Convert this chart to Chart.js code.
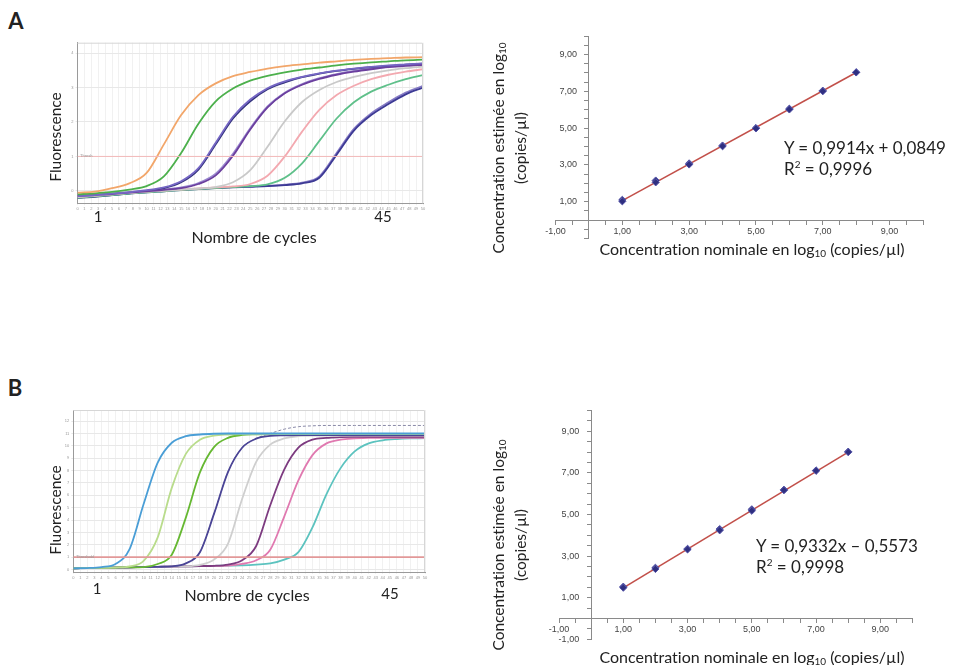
<!DOCTYPE html>
<html><head><meta charset="utf-8">
<script src="https://cdn.jsdelivr.net/npm/chart.js@4.4.1/dist/chart.umd.min.js"></script>
<style>
body{margin:0;background:#fff;}
#wrap{position:relative;width:953px;height:665px;overflow:hidden;font-family:Lato,"Open Sans",sans-serif;color:#222;background:#fff;font-variant-ligatures:none;}
canvas{position:absolute;}
.t{position:absolute;transform:translate(-50%,-50%);white-space:nowrap;line-height:1;}
.l{position:absolute;transform:translate(0,-50%);white-space:nowrap;line-height:1;}
.rot{position:absolute;transform:translate(-50%,-50%) rotate(-90deg);white-space:nowrap;text-align:center;}
.sub{font-size:10px;vertical-align:-2px;}
.tiny{position:absolute;font-size:4px;color:#999;font-family:"Liberation Sans",sans-serif;}
</style></head>
<body><div id="wrap">
<canvas id="ampA" width="375" height="185" style="left:55px;top:35px"></canvas>
<canvas id="stdA" width="425" height="240" style="left:520px;top:20px"></canvas>
<canvas id="ampB" width="382" height="190" style="left:50px;top:400px"></canvas>
<canvas id="stdB" width="425" height="260" style="left:520px;top:395px"></canvas>

<div class="t" style="left:16px;top:21px;font-size:22px;font-weight:bold;">A</div>
<div class="t" style="left:15px;top:388px;font-size:22px;font-weight:bold;">B</div>

<div class="rot" style="left:55px;top:137px;font-size:15.5px;">Fluorescence</div>
<div class="t" style="left:98px;top:216px;font-size:15px;">1</div>
<div class="t" style="left:383px;top:216px;font-size:15px;">45</div>
<div class="t" style="left:254px;top:237px;font-size:16px;">Nombre de cycles</div>
<div class="tiny" style="left:80px;top:153px;">Thresh</div>

<div class="rot" style="left:55px;top:510px;font-size:15.5px;">Fluorescence</div>
<div class="t" style="left:97px;top:588px;font-size:15px;">1</div>
<div class="t" style="left:390px;top:593px;font-size:15px;">45</div>
<div class="t" style="left:247px;top:595px;font-size:16px;">Nombre de cycles</div>
<div class="tiny" style="left:76px;top:554px;">Threshold</div>

<div class="rot" style="left:509px;top:148px;font-size:15.5px;line-height:18px;">Concentration estimée en log<span class="sub">10</span><br>(copies/µl)</div>
<div class="t" style="left:752px;top:249px;font-size:16px;">Concentration nominale en log<span class="sub">10</span> (copies/µl)</div>
<div class="l" style="left:784px;top:147px;font-size:17px;">Y = 0,9914x + 0,0849</div>
<div class="l" style="left:784px;top:168px;font-size:17px;">R<sup style="font-size:10px">2</sup> = 0,9996</div>

<div class="rot" style="left:509px;top:545px;font-size:15.5px;line-height:18px;">Concentration estimée en log<span class="sub">10</span><br>(copies/µl)</div>
<div class="t" style="left:752px;top:657px;font-size:16px;">Concentration nominale en log<span class="sub">10</span> (copies/µl)</div>
<div class="l" style="left:756px;top:545px;font-size:17px;">Y = 0,9332x – 0,5573</div>
<div class="l" style="left:756px;top:566px;font-size:17px;">R<sup style="font-size:10px">2</sup> = 0,9998</div>
</div>
<script>
// ---------- Panel A amplification (cycle grid, step 2.5) ----------
const cyclesA = [0,2.5,5,7.5,10,12.5,15,17.5,20,22.5,25,27.5,30,32.5,35,37.5,40,42.5,45,47.5,50];
const ampA1 = [-0.05,-0.02,0.08,0.22,0.52,1.35,2.2,2.78,3.12,3.33,3.45,3.55,3.62,3.67,3.72,3.76,3.8,3.83,3.85,3.87,3.88];
const ampA2 = [-0.1,-0.07,-0.03,0.04,0.14,0.42,1.1,1.95,2.6,2.97,3.2,3.34,3.44,3.52,3.58,3.64,3.69,3.73,3.76,3.79,3.81];
const ampA3 = [-0.15,-0.12,-0.08,-0.04,0.02,0.1,0.28,0.66,1.4,2.15,2.65,2.98,3.18,3.31,3.41,3.49,3.55,3.6,3.64,3.67,3.7];
const ampA4 = [-0.15,-0.12,-0.09,-0.05,-0.01,0.03,0.08,0.2,0.45,1.02,1.78,2.42,2.83,3.08,3.25,3.37,3.46,3.53,3.59,3.63,3.66];
const ampA5 = [-0.18,-0.14,-0.1,-0.06,-0.02,0.01,0.04,0.07,0.11,0.25,0.6,1.28,2.02,2.58,2.93,3.16,3.31,3.42,3.5,3.56,3.61];
const ampA6 = [-0.18,-0.14,-0.1,-0.06,-0.02,0.01,0.04,0.07,0.1,0.13,0.2,0.44,1.0,1.72,2.35,2.78,3.05,3.24,3.37,3.46,3.53];
const ampA7 = [-0.2,-0.16,-0.12,-0.08,-0.04,-0.01,0.02,0.05,0.08,0.11,0.14,0.19,0.38,0.8,1.45,2.1,2.57,2.88,3.08,3.24,3.36];
const ampA8 = [-0.2,-0.16,-0.12,-0.08,-0.04,-0.01,0.02,0.05,0.08,0.1,0.12,0.14,0.17,0.22,0.38,1.05,1.75,2.2,2.52,2.8,3.0];
// replicate traces visible inside some bundles
const ampA3b = [-0.2,-0.17,-0.12,-0.07,0.0,0.08,0.25,0.62,1.35,2.1,2.6,2.95,3.15,3.3,3.4,3.48,3.54,3.59,3.63,3.66,3.69];
const ampA4b = [-0.12,-0.1,-0.07,-0.03,0.0,0.04,0.1,0.23,0.5,1.08,1.82,2.45,2.85,3.1,3.27,3.39,3.48,3.55,3.6,3.64,3.67];
const ampA8b = [-0.16,-0.12,-0.09,-0.06,-0.02,0.01,0.04,0.06,0.09,0.11,0.13,0.15,0.18,0.24,0.42,1.1,1.8,2.25,2.57,2.85,3.05];
const colorsA = ['#f2a66a','#4cb04c','#7566c4','#6b3f9e','#c9c9c9','#f3a9b0','#5fc08a','#3d3a95','#34347e','#9a88d0','#8479c4'];
const thresholdA = 1;

// ---------- Panel B amplification (cycle grid, step 2) ----------
const cyclesB = [0,2,4,6,8,10,12,14,16,18,20,22,24,26,28,30,32,34,36,38,40,42,44,46,48,50];
const ampB1 = [0.1,0.12,0.2,0.45,1.65,5.3,8.65,10.25,10.78,10.92,10.98,11.0,11.0,11.0,11.0,11.0,11.0,11.0,11.0,11.0,11.0,11.0,11.0,11.0,11.0,11.0];
const ampB2 = [0.1,0.12,0.14,0.16,0.25,0.7,2.6,6.6,9.35,10.5,10.83,10.92,10.95,10.95,10.95,10.95,10.95,10.95,10.95,10.95,10.95,10.95,10.95,10.95,10.95,10.95];
const ampB3 = [0.1,0.12,0.14,0.16,0.18,0.2,0.45,1.2,4.2,7.85,9.9,10.65,10.88,10.93,10.95,10.95,10.95,10.95,10.95,10.95,10.95,10.95,10.95,10.95,10.95,10.95];
const ampB4 = [0.1,0.12,0.14,0.16,0.18,0.2,0.22,0.26,0.5,1.4,4.5,7.9,9.85,10.58,10.8,10.85,10.88,10.88,10.88,10.88,10.88,10.88,10.88,10.88,10.88,10.88];
const ampB5 = [0.1,0.12,0.14,0.16,0.18,0.2,0.22,0.24,0.26,0.38,0.8,2.1,5.7,8.7,10.1,10.6,10.78,10.82,10.82,10.82,10.82,10.82,10.82,10.82,10.82,10.82];
const ampB6 = [0.1,0.12,0.14,0.16,0.18,0.2,0.22,0.24,0.26,0.28,0.3,0.4,0.75,1.9,5.2,8.1,9.85,10.5,10.65,10.7,10.72,10.72,10.72,10.72,10.72,10.72];
const ampB7 = [0.1,0.12,0.14,0.16,0.18,0.2,0.22,0.24,0.26,0.28,0.3,0.32,0.45,0.75,1.6,4.3,7.2,9.25,10.2,10.5,10.6,10.65,10.65,10.65,10.65,10.65];
const ampB8 = [0.1,0.12,0.14,0.16,0.18,0.2,0.22,0.24,0.26,0.28,0.3,0.32,0.34,0.4,0.5,0.8,1.4,3.4,6.1,8.2,9.55,10.2,10.45,10.55,10.6,10.62];
const ampB4high = [0.1,0.12,0.14,0.16,0.18,0.2,0.22,0.26,0.5,1.4,4.5,7.9,9.85,10.6,11.0,11.35,11.55,11.62,11.65,11.65,11.65,11.65,11.65,11.65,11.65,11.65];
const colorsB = ['#4a9ed6','#b9dc8c','#66b832','#4b4596','#cfcfcf','#7d3b80','#e079b0','#5cc3bf'];
const thresholdB = 1;

// ---------- Standard curves ----------
const nominal = [1,2,3,4,5,6,7,8];
const estA_rep1 = [1.02,2.05,3.02,4.01,4.98,6.01,7.0,8.02];
const estA_rep2 = [1.1,2.15,3.08,4.05,5.0,6.05,7.03,8.03];
const fitA_x = [1,8];
const fitA_y = [1.06,8.02];
const estB_rep1 = [1.48,2.38,3.32,4.24,5.18,6.17,7.1,8.0];
const estB_rep2 = [1.53,2.44,3.35,4.3,5.25,6.19,7.12,8.02];
const fitB_x = [1,8];
const fitB_y = [1.47,8.0];
const yLabelsA = [1,3,5,7,9];
const yLabelsB = [-1,1,3,5,7,9];

// ---------- helpers ----------
const pts = (xs, ys) => xs.map((x,i)=>({x:x, y:ys[i]}));
const boxPlugin = {
  id:'box',
  afterDraw(chart){
    const {ctx, chartArea:a} = chart;
    ctx.save();
    ctx.strokeStyle = '#d6d6d6'; ctx.lineWidth = 1;
    ctx.beginPath();
    ctx.moveTo(a.left, a.top+0.5); ctx.lineTo(a.right-0.5, a.top+0.5); ctx.lineTo(a.right-0.5, a.bottom);
    ctx.stroke();
    ctx.restore();
  }
};
function ampChart(id, cycles, series, colors, thr, yMin, yMax, yW, xH, pad, extra){
  const ds = series.map((s,i)=>({
    data: pts(cycles, s), borderColor: colors[i], borderWidth: 1.8,
    pointRadius: 0, cubicInterpolationMode: 'monotone', fill:false
  }));
  if (extra) ds.push(extra);
  ds.unshift({
    data: [{x:0,y:thr},{x:50,y:thr}], borderColor: id==='ampA' ? '#f2b9b9' : '#e29898',
    borderWidth: id==='ampA' ? 1 : 1.6, pointRadius:0
  });
  return new Chart(document.getElementById(id), {
    type:'line',
    data:{datasets: ds},
    plugins:[boxPlugin],
    options:{
      responsive:false, animation:false, devicePixelRatio:1,
      layout:{padding:pad},
      plugins:{legend:{display:false}, tooltip:{enabled:false}},
      scales:{
        x:{type:'linear', min:0, max:50,
           ticks:{stepSize:1, autoSkip:false, maxRotation:0, font:{size:4, family:'Liberation Sans'}, color:'#999', padding:1},
           grid:{color:'#f1f1f1', tickLength:2},
           border:{color:'#9a9a9a'},
           afterFit: s => { s.height = xH; }},
        y:{type:'linear', min:yMin, max:yMax,
           ticks:{stepSize:1, includeBounds:false, font:{size:4, family:'Liberation Sans'}, color:'#999', padding:2},
           grid:{color:'#e8e8e8', tickLength:2},
           border:{color:'#9a9a9a'},
           afterFit: s => { s.width = yW; }}
      }
    }
  });
}
ampChart('ampA', cyclesA, [ampA1,ampA2,ampA3,ampA4,ampA5,ampA6,ampA7,ampA8,ampA3b,ampA4b,ampA8b], colorsA, thresholdA,
  -0.36, 4.3, 22.5, 16.7, {top:7.7, right:7, left:0, bottom:0});
ampChart('ampB', cyclesB, [ampB1,ampB2,ampB3,ampB4,ampB5,ampB6,ampB7,ampB8], colorsB, thresholdB,
  -0.2, 12.9, 23.3, 18, {top:10, right:7, left:0, bottom:0},
  {data: pts(cyclesB, ampB4high), borderColor:'#8a8aa8', borderWidth:1, borderDash:[3,2], pointRadius:0, cubicInterpolationMode:'monotone'});

function fmt(v){ return v.toFixed(2).replace('.', ','); }
const yLabelPlugin = {
  id:'ylab',
  afterDraw(chart, args, opts){
    const xs = chart.scales.x, ys = chart.scales.y, ctx = chart.ctx;
    ctx.save();
    ctx.font = '9px "Liberation Sans", Arial, sans-serif';
    ctx.fillStyle = '#444'; ctx.textAlign = 'right'; ctx.textBaseline = 'middle';
    const x0 = xs.getPixelForValue(0) - 12;
    opts.values.forEach(v => ctx.fillText(fmt(v), x0, ys.getPixelForValue(v)));
    ctx.restore();
  }
};
function stdChart(id, rep1, rep2, fx, fy, pad, yLabels){
  return new Chart(document.getElementById(id), {
    type:'scatter',
    data:{datasets:[
      {type:'line', data: pts(fx, fy), borderColor:'#c2504a', borderWidth:1.6, pointRadius:0, order:2},
      {data: pts(nominal, rep1), pointStyle:'rectRot', pointRadius:3.6, backgroundColor:'#2f2f80', borderColor:'#5656a8', borderWidth:1, order:1},
      {data: pts(nominal, rep2), pointStyle:'rectRot', pointRadius:3.6, backgroundColor:'#2f2f80', borderColor:'#5656a8', borderWidth:1, order:1}
    ]},
    plugins:[yLabelPlugin],
    options:{
      responsive:false, animation:false, devicePixelRatio:1,
      layout:{padding:pad},
      plugins:{legend:{display:false}, tooltip:{enabled:false}, ylab:{values:yLabels}},
      scales:{
        x:{type:'linear', min:-1, max:10, position:{y:0},
           ticks:{stepSize:0.5, autoSkip:false, maxRotation:0, includeBounds:false,
                  font:{size:9, family:'Liberation Sans'}, color:'#444', padding:2,
                  callback: v => (Number.isInteger(v) && Math.abs(v)%2===1) ? fmt(v) : ''},
           grid:{drawOnChartArea:false, drawTicks:true, tickLength:4, color:'#8a8a8a'},
           border:{display:true, color:'#8a8a8a'}},
        y:{type:'linear', min:-1, max:10, position:{x:0},
           ticks:{stepSize:0.5, autoSkip:false, includeBounds:false,
                  font:{size:9, family:'Liberation Sans'}, color:'#444',
                  callback: () => ''},
           grid:{drawOnChartArea:false, drawTicks:true, tickLength:4, color:'#8a8a8a'},
           border:{display:true, color:'#8a8a8a'}}
      }
    }
  });
}
stdChart('stdA', estA_rep1, estA_rep2, fitA_x, fitA_y, {left:35.5, top:16, right:22, bottom:21.5}, yLabelsA);
stdChart('stdB', estB_rep1, estB_rep2, fitB_x, fitB_y, {left:39, top:15.5, right:32.5, bottom:15.7}, yLabelsB);
</script>
</body></html>
